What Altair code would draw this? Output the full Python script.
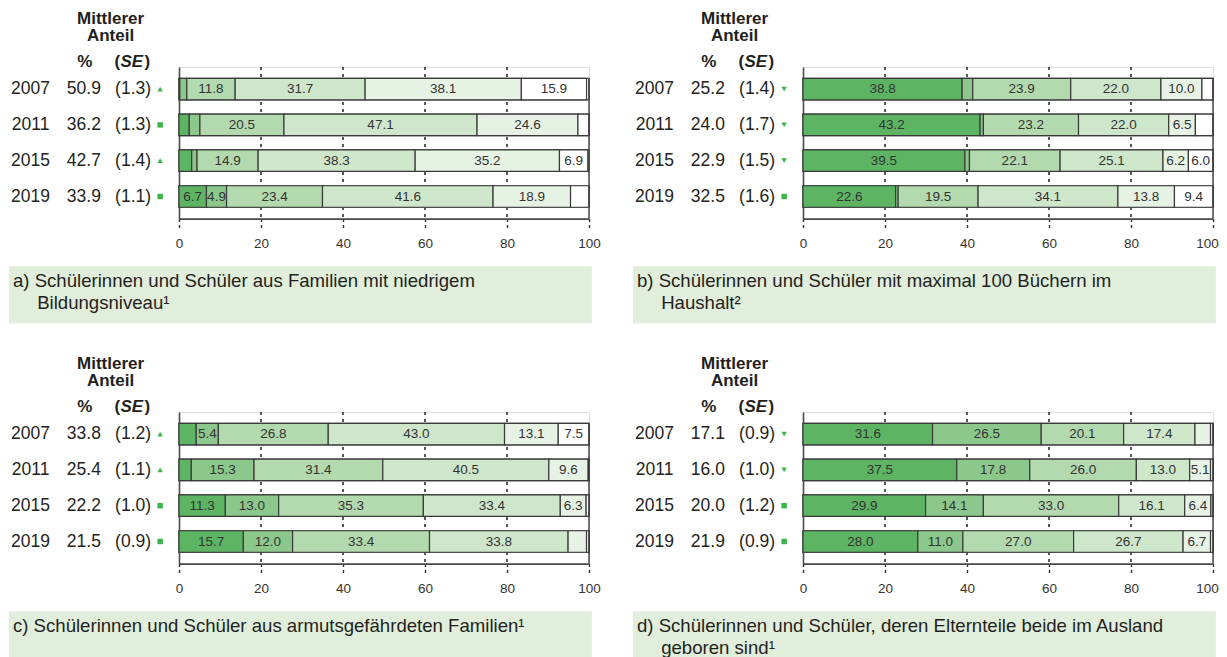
import altair as alt
import pandas as pd

# ---------------- data ----------------
years = [2007, 2011, 2015, 2019]
levels = [1, 2, 3, 4, 5, 6]
level_colors = ["#5db563", "#8cc88c", "#b3d9ae", "#cee6ca", "#e6f2e3", "#ffffff"]
grid_values = [20, 40, 60, 80]
tick_values = [0, 20, 40, 60, 80, 100]

panel_ids = ["a", "b", "c", "d"]
right_column = {"a": False, "b": True, "c": False, "d": True}

captions = {
    "a": ["a) Schülerinnen und Schüler aus Familien mit niedrigem", "Bildungsniveau¹"],
    "b": ["b) Schülerinnen und Schüler mit maximal 100 Büchern im", "Haushalt²"],
    "c": ["c) Schülerinnen und Schüler aus armutsgefährdeten Familien¹"],
    "d": ["d) Schülerinnen und Schüler, deren Elternteile beide im Ausland", "geboren sind¹"],
}

mean_pct = {
    "a": [50.9, 36.2, 42.7, 33.9],
    "b": [25.2, 24.0, 22.9, 32.5],
    "c": [33.8, 25.4, 22.2, 21.5],
    "d": [17.1, 16.0, 20.0, 21.9],
}
mean_se = {
    "a": [1.3, 1.3, 1.4, 1.1],
    "b": [1.4, 1.7, 1.5, 1.6],
    "c": [1.2, 1.1, 1.0, 0.9],
    "d": [0.9, 1.0, 1.2, 0.9],
}
trend = {
    "a": ["up", "sq", "up", "sq"],
    "b": ["down", "down", "down", "sq"],
    "c": ["up", "up", "sq", "sq"],
    "d": ["down", "down", "sq", "sq"],
}

seg_a = [
    [0.2, 1.7, 11.8, 31.7, 38.1, 15.9],
    [2.5, 2.6, 20.5, 47.1, 24.6, 2.7],
    [3.1, 1.3, 14.9, 38.3, 35.2, 6.9],
    [6.7, 4.9, 23.4, 41.6, 18.9, 4.5],
]
seg_b = [
    [38.8, 2.6, 23.9, 22.0, 10.0, 2.7],
    [43.2, 0.8, 23.2, 22.0, 6.5, 4.3],
    [39.5, 1.1, 22.1, 25.1, 6.2, 6.0],
    [22.6, 0.6, 19.5, 34.1, 13.8, 9.4],
]
seg_c = [
    [4.2, 5.4, 26.8, 43.0, 13.1, 7.5],
    [3.0, 15.3, 31.4, 40.5, 9.6, 0.2],
    [11.3, 13.0, 35.3, 33.4, 6.3, 0.7],
    [15.7, 12.0, 33.4, 33.8, 4.5, 0.6],
]
seg_d = [
    [31.6, 26.5, 20.1, 17.4, 3.8, 0.6],
    [37.5, 17.8, 26.0, 13.0, 5.1, 0.6],
    [29.9, 14.1, 33.0, 16.1, 6.4, 0.5],
    [28.0, 11.0, 27.0, 26.7, 6.7, 0.6],
]
segments = {"a": seg_a, "b": seg_b, "c": seg_c, "d": seg_d}

LABEL_MIN = 4.8

# ---------------- layout constants (data units) ----------------
FONT = "Liberation Sans"
TXT = "#231f20"
W, H = 410, 151.6
Y_DOMAIN = [-0.617, 3.617]
HALF = 0.30
X_YEAR, X_PCT, X_SE, X_MARK = -36.2, -23.2, -11.2, -4.6
X_HEAD, X_PCTHEAD, X_SEHEAD = -16.7, -23.0, -15.73
Y_HEAD1, Y_HEAD2, Y_HEAD3 = -1.97, -1.475, -0.757
CAP_X0, CAP_X1, CAP_Y0, CAP_Y1 = -41.5, 100.7, 4.95, 6.54
CAP_TX0, CAP_TX1 = -40.5, -34.6
CAP_LINE_Y = [5.36, 5.97]


def panel(pid):
    xs = alt.Scale(domain=[0, 100], nice=False, zero=False)
    ys = alt.Scale(domain=Y_DOMAIN, reverse=True, nice=False, zero=False)
    last_shift = -6 if right_column[pid] else 0
    xaxis = alt.Axis(values=tick_values, grid=False, domainColor="#4a4a4a",
                     domainWidth=1.6, ticks=True, tickSize=9, tickDash=[3, 3],
                     tickColor="#333333", tickWidth=1.4,
                     labelFontSize=13.5, labelColor="#333333", labelPadding=9,
                     labelOffset={"expr": f"datum.value === 100 ? {last_shift} : 0"},
                     labelFlush=False, labelFont=FONT, title=None)
    yaxis = alt.Axis(labels=False, ticks=False, grid=False, domain=True,
                     domainColor="#4a4a4a", domainWidth=1.6, title=None)

    def X(field):
        return alt.X(f"{field}:Q", scale=xs, axis=xaxis)

    def Y(field):
        return alt.Y(f"{field}:Q", scale=ys, axis=yaxis)

    rows = []
    for i, yr in enumerate(years):
        start = 0.0
        for lev, v in zip(levels, segments[pid][i]):
            rows.append(dict(row=i, level=lev, start=start, end=start + v,
                             mid=start + v / 2, y0=i - HALF, y1=i + HALF,
                             label=f"{v:.1f}" if v >= LABEL_MIN else ""))
            start += v
    seg = pd.DataFrame(rows)

    frame = pd.DataFrame({"row": range(len(years)), "x0": 0, "x1": 100})
    frame["y0"] = frame["row"] - HALF
    frame["y1"] = frame["row"] + HALF

    grid = alt.Chart(pd.DataFrame({"x": grid_values, "y0": [Y_DOMAIN[0]] * 4,
                                   "y1": [Y_DOMAIN[1]] * 4})).mark_rule(
        color="#222222", strokeWidth=1.5, strokeDash=[3, 4]).encode(
        x=X("x"), y=Y("y0"), y2="y1:Q",
    )
    frame_layer = alt.Chart(frame).mark_rect(fill="white", stroke="#444444", strokeWidth=1.2).encode(
        x=X("x0"), x2="x1:Q", y=Y("y0"), y2="y1:Q",
    )
    bars = alt.Chart(seg).mark_rect(stroke="#3a3a3a", strokeWidth=1.2).encode(
        x=X("start"), x2="end:Q", y=Y("y0"), y2="y1:Q",
        color=alt.Color("level:O", scale=alt.Scale(domain=levels, range=level_colors), legend=None),
    )
    labels = alt.Chart(seg).mark_text(font=FONT, fontSize=13.5, color="#333333", baseline="middle").encode(
        x=X("mid"), y=Y("row"), text="label:N",
    )
    right_rule = alt.Chart(pd.DataFrame({"x": [100], "y0": [-HALF], "y1": [Y_DOMAIN[1]]})).mark_rule(
        color="#3a3a3a", strokeWidth=1.4).encode(
        x=X("x"), y=Y("y0"), y2="y1:Q",
    )

    # left table
    tab = pd.DataFrame({
        "row": range(len(years)),
        "year": [str(y) for y in years],
        "pct": [f"{v:.1f}" for v in mean_pct[pid]],
        "se": [f"({v:.1f})" for v in mean_se[pid]],
        "trend": trend[pid],
    })
    tab["xy"], tab["xp"], tab["xs"], tab["xm"] = X_YEAR, X_PCT, X_SE, X_MARK

    def tcol(field, xfield):
        return alt.Chart(tab).mark_text(font=FONT, fontSize=17.5, color=TXT, baseline="middle").encode(
            x=X(xfield), y=Y("row"), text=f"{field}:N",
        )

    markers = alt.Chart(tab).mark_point(filled=True, opacity=1, color="#3cb44b", size=30).encode(
        x=X("xm"), y=Y("row"),
        shape=alt.Shape("trend:N", scale=alt.Scale(domain=["up", "sq", "down"],
                                                   range=["triangle-up", "square", "triangle-down"]),
                        legend=None),
    )

    head_c = pd.DataFrame({"x": [X_HEAD, X_HEAD, X_PCTHEAD], "y": [Y_HEAD1, Y_HEAD2, Y_HEAD3],
                           "t": ["Mittlerer", "Anteil", "%"]})
    head_l = pd.DataFrame({"x": [X_SEHEAD, X_SEHEAD + 30 / 4.1], "y": [Y_HEAD3, Y_HEAD3], "t": ["(", ")"]})
    head_i = pd.DataFrame({"x": [X_SEHEAD + 6 / 4.1], "y": [Y_HEAD3], "t": ["SE"]})

    def htext(df, align, style="normal"):
        return alt.Chart(df).mark_text(font=FONT, fontSize=17, fontWeight="bold", fontStyle=style,
                                       color=TXT, align=align, baseline="middle").encode(
            x=X("x"), y=Y("y"), text="t:N",
        )

    # caption box
    cap_box = alt.Chart(pd.DataFrame({"x0": [CAP_X0], "x1": [CAP_X1], "y0": [CAP_Y0], "y1": [CAP_Y1]})).mark_rect(
        fill="#e1eedb").encode(
        x=X("x0"), x2="x1:Q", y=Y("y0"), y2="y1:Q",
    )
    cap_lines = captions[pid]
    cap_df = pd.DataFrame({
        "t": cap_lines,
        "x": [CAP_TX0] + [CAP_TX1] * (len(cap_lines) - 1),
        "y": CAP_LINE_Y[:len(cap_lines)],
    })
    cap_text = alt.Chart(cap_df).mark_text(font=FONT, fontSize=18.6, color=TXT, align="left",
                                           baseline="middle").encode(
        x=X("x"), y=Y("y"), text="t:N",
    )

    return alt.layer(
        grid, frame_layer, bars, labels, right_rule,
        tcol("year", "xy"), tcol("pct", "xp"), tcol("se", "xs"), markers,
        htext(head_c, "center"), htext(head_l, "left"), htext(head_i, "left", "italic"),
        cap_box, cap_text,
    ).properties(width=W, height=H)


chart = alt.concat(*[panel(p) for p in panel_ids], columns=2,
                   spacing={"row": 30, "column": 31}).properties(
    padding={"left": 0, "top": 1, "right": 0, "bottom": 0}
).configure_view(stroke=None).configure(font=FONT)

chart.save("out.html", embed_options={"renderer": "svg", "actions": False})
